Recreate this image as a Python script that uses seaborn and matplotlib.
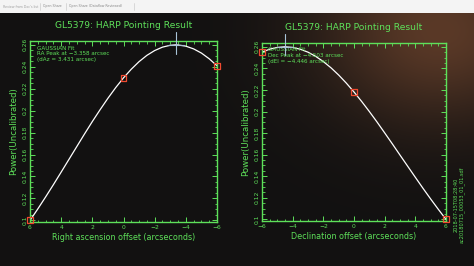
import numpy as np
import pandas as pd
import matplotlib
matplotlib.use("Agg")
import matplotlib.pyplot as plt
import seaborn as sns
from matplotlib.ticker import MultipleLocator

# ---- data ----
ra_offset = [-6, -5.5, -5, -4.5, -4, -3.5, -3.358, -3, -2.5, -2, -1.5, -1, -0.5,
             0, 0.5, 1, 1.5, 2, 2.5, 3, 3.5, 4, 4.5, 5, 5.5, 6]
ra_fit = [0.2409, 0.2473, 0.2525, 0.2563, 0.2588, 0.2599, 0.2600, 0.2596,
          0.2579, 0.2548, 0.2504, 0.2447, 0.2378, 0.2299, 0.2210, 0.2113,
          0.2009, 0.1901, 0.1788, 0.1672, 0.1556, 0.1440, 0.1325, 0.1213,
          0.1104, 0.0999]
ra_meas_x = [6, 0, -6]
ra_meas_y = [0.100, 0.230, 0.241]
ra_peak_x = -3.358
ra_peak_y = 0.2600

dec_offset = [-6, -5.5, -5, -4.503, -4, -3.5, -3, -2.5, -2, -1.5, -1, -0.5,
              0, 0.5, 1, 1.5, 2, 2.5, 3, 3.5, 4, 4.5, 5, 5.5, 6]
dec_fit = [0.2550, 0.2578, 0.2594, 0.2600, 0.2594, 0.2577, 0.2550, 0.2511,
           0.2463, 0.2405, 0.2338, 0.2263, 0.2181, 0.2093, 0.2000, 0.1903,
           0.1802, 0.1700, 0.1596, 0.1493, 0.1390, 0.1288, 0.1189, 0.1093,
           0.1000]
dec_meas_x = [-6, 0, 6]
dec_meas_y = [0.255, 0.218, 0.100]
dec_peak_x = -4.503
dec_peak_y = 0.2600

x_ticks = [-6, -4, -2, 0, 2, 4, 6]
y_ticks = [0.1, 0.12, 0.14, 0.16, 0.18, 0.2, 0.22, 0.24, 0.26]
y_tick_labels = ["0.1", "0.12", "0.14", "0.16", "0.18", "0.2", "0.22", "0.24", "0.26"]

title = "GL5379: HARP Pointing Result"
ra_text = "GAUSSIAN Fit\nRA Peak at \u22123.358 arcsec\n(dAz = 3.431 arcsec)"
dec_text = "GAUSSIAN Fit\nDec Peak at \u22124.503 arcsec\n(dEl = \u22124.446 arcsec)"
side_text = "2018-07-15T08:28:40\nac20180715_00053_01_01.sdf"
tabs = ["Review from Doc's list", "Open Share", "Open Share (Dataflow Reviewed)"]

GREEN = "#5ee05a"
W, H = 474, 266

sns.set_style("dark")
plt.rcParams["font.family"] = ["DejaVu Sans"]

fig = plt.figure(figsize=(W / 100, H / 100), dpi=100)
fig.patch.set_facecolor("#161515")

# background (photo of monitor): dark screen, warm glow, white top strip
bg = fig.add_axes([0, 0, 1, 1])
yy, xx = np.mgrid[0:H, 0:W]
img = np.zeros((H, W, 3))
img[:] = np.array([18, 17, 17]) / 255
glow = np.exp(-(((xx - 440) ** 2) / (2 * 85 ** 2) + ((yy - 30) ** 2) / (2 * 65 ** 2)))
img += glow[..., None] * (np.array([72, 40, 22]) / 255)
img[:13] = np.array([244, 244, 244]) / 255
bg.imshow(np.clip(img, 0, 1), aspect="auto", extent=[0, W, H, 0])
bg.set_xlim(0, W)
bg.set_ylim(H, 0)
bg.axis("off")
bg.text(3, 6.5, tabs[0], fontsize=2.3, color="#a0a0a0", va="center")
bg.text(43, 6.5, tabs[1], fontsize=2.3, color="#8a8a8a", va="center")
bg.text(69, 6.5, tabs[2], fontsize=2.3, color="#8a8a8a", va="center")
for xv in (40, 66, 134):
    bg.plot([xv, xv], [3, 10], color="#cccccc", lw=0.5)


def style_axes(ax, xlim):
    ax.set_facecolor("none")
    ax.set_xlim(*xlim)
    ax.set_ylim(0.0985, 0.2635)
    for s in ax.spines.values():
        s.set_visible(True)
        s.set_color(GREEN)
        s.set_linewidth(1.0)
    ax.set_xticks(x_ticks)
    ax.set_xticklabels([str(t).replace("-", "\u2212") for t in x_ticks])
    ax.set_yticks(y_ticks)
    ax.set_yticklabels(y_tick_labels, rotation=90, va="center")
    ax.xaxis.set_minor_locator(MultipleLocator(0.5))
    ax.yaxis.set_minor_locator(MultipleLocator(0.005))
    ax.tick_params(which="both", direction="in", top=True, right=True,
                   bottom=True, left=True, colors=GREEN, labelcolor=GREEN,
                   labelsize=4.3, pad=2)
    ax.tick_params(which="major", length=3.5, width=0.7)
    ax.tick_params(which="minor", length=1.8, width=0.6)
    ax.grid(False)
    ax.set_ylabel("Power(Uncalibrated)", color=GREEN, fontsize=6.2, labelpad=3)


def draw(ax, xs, fit, mx, my, px, py, xlabel, note, xlim):
    style_axes(ax, xlim)
    sns.lineplot(x=xs, y=fit, ax=ax, color="white", lw=0.9, sort=True,
                 estimator=None)
    sns.scatterplot(x=mx, y=my, ax=ax, marker="s", s=18, facecolor="none",
                    edgecolor="#f04a30", linewidth=0.9, clip_on=False, zorder=5)
    ax.plot([px, px], [py - 0.008, py + 0.012], color="#a9c4d8", lw=0.8,
            clip_on=False, zorder=6)
    ax.plot([px - 0.5, px + 0.5], [py, py], color="#a9c4d8", lw=0.8,
            clip_on=False, zorder=6)
    ax.set_xlabel(xlabel, color=GREEN, fontsize=5.8, labelpad=2)
    ax.text(0.035, 0.975, note, transform=ax.transAxes, color=GREEN,
            fontsize=4.1, va="top", ha="left", linespacing=1.15)
    ax.set_title(title, color=GREEN, fontsize=6.6, pad=9)


axL = fig.add_axes([30 / W, 1 - 222 / H, 187 / W, 181 / H])
draw(axL, ra_offset, ra_fit, ra_meas_x, ra_meas_y, ra_peak_x, ra_peak_y,
     "Right ascension offset (arcseconds)", ra_text, (6, -6))

axR = fig.add_axes([262 / W, 1 - 221 / H, 184 / W, 178 / H])
draw(axR, dec_offset, dec_fit, dec_meas_x, dec_meas_y, dec_peak_x, dec_peak_y,
     "Declination offset (arcseconds)", dec_text, (-6, 6))

fig.text(459 / W, 1 - 205 / H, side_text, rotation=90, color=GREEN,
         fontsize=3.6, ha="center", va="center", linespacing=1.1)

fig.savefig("out.png", dpi=100, facecolor=fig.get_facecolor())
